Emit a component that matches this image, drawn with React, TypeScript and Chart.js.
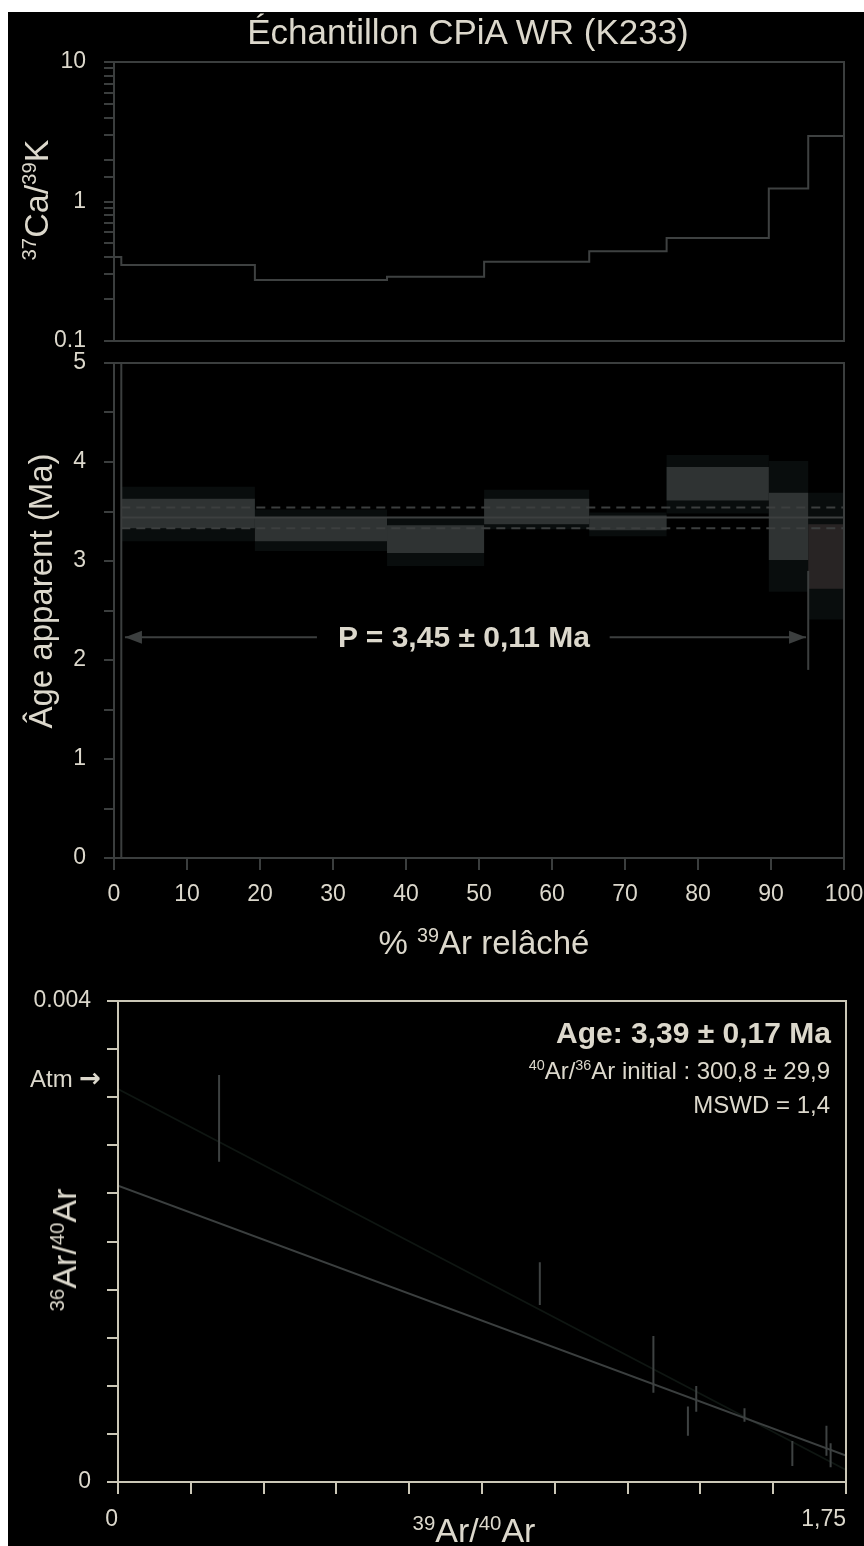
import React, { useEffect, useRef } from 'react';
import { Chart, registerables } from 'chart.js';

Chart.register(...registerables);

// ---------------- Data ----------------
// step edges (% 39Ar released), shared by Ca/K and age spectrum
const stepEdges = [0, 1, 19.3, 37.4, 50.7, 65.1, 75.7, 89.7, 95.1, 100];
// 37Ca/39K for each step
const caK = [0.4, 0.35, 0.274, 0.289, 0.37, 0.44, 0.547, 1.24, 2.95];
// apparent ages (Ma): 1 sigma and 2 sigma envelopes per step
const age1Lo = [-1, 3.33, 3.2, 3.08, 3.37, 3.31, 3.61, 3.01, 2.72];
const age1Hi = [6, 3.63, 3.44, 3.36, 3.63, 3.46, 3.95, 3.69, 3.37];
const age2Lo = [-1, 3.2, 3.1, 2.95, 3.32, 3.25, 3.48, 2.69, 2.41];
const age2Hi = [6, 3.75, 3.52, 3.45, 3.72, 3.49, 4.07, 4.01, 3.69];
// plateau
const plateauMean = 3.44;
const plateauLo = 3.33;
const plateauHi = 3.54;
const plateauSpan = [1, 100];
const arrowLevel = 2.23;
const arrowEnds = [1.5, 94.8];
const arrowGap = [27.8, 67.9];
const plateauMarker = { x: 95.1, from: 1.9, to: 2.9 };

// isochron points: 39Ar/40Ar, 36Ar/40Ar and error
const isoX = [0.243, 1.014, 1.287, 1.37, 1.39, 1.506, 1.621, 1.703, 1.713];
const isoY = [0.003024, 0.001649, 0.000979, 0.000506, 0.000692, 0.000557, 0.000237, 0.000343, 0.000222];
const isoErr = [0.00036, 0.000178, 0.000236, 0.000121, 0.000107, 0.000056, 0.000104, 0.000125, 0.0001];
const fitLineX = [0, 1.75];
const fitLineY = [0.002464, 0.000219];
const isoLineX = [0, 1.75];
const isoLineY = [0.003268, 0.0001];

// tick definitions
const caTickLabels = ['0.1', '1', '10'];
const ageXTicks = { min: 0, max: 100, step: 10 };
const ageYTicks = { min: 0, max: 5, step: 0.5 };
const isoXTicks = { min: 0, max: 1.75, step: 0.175 };
const isoYTicks = { min: 0, max: 0.004, step: 0.0004 };

// ---------------- Styles ----------------
const FONT = "'Liberation Sans', Arial, Helvetica, sans-serif";
const TEXT = '#dcd8cc';
const GRAY = '#3b3e3e';
const BEIGE = '#cbc7b7';
const innerFill = ['#000000', '#2f3333', '#2f3333', '#2f3333', '#2f3333', '#2f3333', '#2f3333', '#2f3333', '#282424'];
const outerFill = ['#000000', '#090d0d', '#090d0d', '#090d0d', '#090d0d', '#090d0d', '#090d0d', '#090d0d', '#090d0d'];

const tickFont = { family: FONT, size: 23 };

const noPad = (s: any) => {
  s.paddingTop = 0;
  s.paddingBottom = 0;
  s.paddingLeft = 0;
  s.paddingRight = 0;
};

const framePlugin = (color: string, width: number) => ({
  id: 'frame',
  afterDraw(chart: any) {
    const { ctx, chartArea: a } = chart;
    ctx.save();
    ctx.strokeStyle = color;
    ctx.lineWidth = width;
    ctx.strokeRect(a.left, a.top, a.right - a.left, a.bottom - a.top);
    ctx.restore();
  },
});

function makeCaChart(canvas: HTMLCanvasElement) {
  const pts = caK.map((v, i) => ({ x: stepEdges[i], y: v }));
  pts.push({ x: stepEdges[stepEdges.length - 1], y: caK[caK.length - 1] });
  return new Chart(canvas, {
    type: 'scatter',
    data: {
      datasets: [
        {
          data: pts,
          showLine: true,
          stepped: 'before',
          borderColor: '#3e4141',
          borderWidth: 2,
          pointRadius: 0,
        } as any,
      ],
    },
    options: {
      responsive: false,
      animation: false,
      layout: { padding: { left: 0, right: 20, top: 22, bottom: 19 } },
      plugins: { legend: { display: false }, tooltip: { enabled: false } },
      scales: {
        x: { type: 'linear', min: 0, max: 100, display: false },
        y: {
          type: 'logarithmic',
          min: 0.1,
          max: 10,
          afterFit: (s: any) => { s.width = 114; noPad(s); },
          border: { display: true, color: GRAY, width: 2 },
          grid: { drawOnChartArea: false, drawTicks: true, tickLength: 10, color: GRAY, lineWidth: 2 },
          ticks: {
            autoSkip: false,
            color: TEXT,
            font: tickFont,
            padding: 18,
            callback: (v: any) => {
              const l = Math.log10(Number(v));
              if (Math.abs(l - Math.round(l)) < 1e-6) return caTickLabels[Math.round(l) + 1];
              return '';
            },
          },
        },
      },
    } as any,
    plugins: [framePlugin(GRAY, 2)],
  });
}

function box(i: number, lo: number[], hi: number[]) {
  const x0 = stepEdges[i];
  const x1 = stepEdges[i + 1];
  return [
    { x: x0, y: lo[i] },
    { x: x0, y: hi[i] },
    { x: x1, y: hi[i] },
    { x: x1, y: lo[i] },
    { x: x0, y: lo[i] },
  ];
}

function makeAgeChart(canvas: HTMLCanvasElement) {
  const datasets: any[] = [];
  for (let i = 0; i < age1Lo.length; i++) {
    datasets.push({
      data: box(i, age2Lo, age2Hi),
      showLine: true,
      fill: 'shape',
      backgroundColor: outerFill[i],
      borderWidth: 0,
      borderColor: 'rgba(0,0,0,0)',
      pointRadius: 0,
      order: 40,
    });
    datasets.push({
      data: box(i, age1Lo, age1Hi),
      showLine: true,
      fill: 'shape',
      backgroundColor: innerFill[i],
      borderWidth: i === 0 ? 2 : 0,
      borderColor: i === 0 ? GRAY : 'rgba(0,0,0,0)',
      pointRadius: 0,
      order: 30,
    });
  }
  const hline = (y: number, dash: number[]) => ({
    data: [{ x: plateauSpan[0], y }, { x: plateauSpan[1], y }],
    showLine: true,
    borderColor: '#3c3f3f',
    borderWidth: 2,
    borderDash: dash,
    pointRadius: 0,
    order: 10,
  });
  datasets.push(hline(plateauMean, []));
  datasets.push(hline(plateauHi, [9, 6]));
  datasets.push(hline(plateauLo, [9, 6]));
  const seg = (a: number, b: number) => ({
    data: [{ x: a, y: arrowLevel }, { x: b, y: arrowLevel }],
    showLine: true,
    borderColor: '#3c3f3f',
    borderWidth: 2,
    pointRadius: 0,
    order: 5,
  });
  datasets.push(seg(arrowEnds[0], arrowGap[0]));
  datasets.push(seg(arrowGap[1], arrowEnds[1]));
  datasets.push({
    data: [{ x: plateauMarker.x, y: plateauMarker.from }, { x: plateauMarker.x, y: plateauMarker.to }],
    showLine: true,
    borderColor: '#3c3f3f',
    borderWidth: 2,
    pointRadius: 0,
    order: 5,
  });

  const arrowHeads = {
    id: 'arrowHeads',
    afterDatasetsDraw(chart: any) {
      const { ctx, scales } = chart;
      const yy = scales.y.getPixelForValue(arrowLevel);
      ctx.save();
      ctx.fillStyle = '#3c3f3f';
      const head = (px: number, dir: number) => {
        ctx.beginPath();
        ctx.moveTo(px, yy);
        ctx.lineTo(px - dir * 17, yy - 6.5);
        ctx.lineTo(px - dir * 17, yy + 6.5);
        ctx.closePath();
        ctx.fill();
      };
      head(scales.x.getPixelForValue(arrowEnds[0]), -1);
      head(scales.x.getPixelForValue(arrowEnds[1]), 1);
      ctx.restore();
    },
  };

  return new Chart(canvas, {
    type: 'scatter',
    data: { datasets },
    options: {
      responsive: false,
      animation: false,
      layout: { padding: { left: 0, right: 20, top: 13, bottom: 0 } },
      plugins: { legend: { display: false }, tooltip: { enabled: false } },
      scales: {
        x: {
          type: 'linear',
          min: ageXTicks.min,
          max: ageXTicks.max,
          afterFit: (s: any) => { s.height = 72; noPad(s); },
          border: { display: true, color: GRAY, width: 2 },
          grid: { drawOnChartArea: false, drawTicks: true, tickLength: 12, color: GRAY, lineWidth: 2 },
          ticks: { stepSize: ageXTicks.step, autoSkip: false, maxRotation: 0, color: TEXT, font: tickFont, padding: 11 },
        },
        y: {
          type: 'linear',
          min: ageYTicks.min,
          max: ageYTicks.max,
          afterFit: (s: any) => { s.width = 114; noPad(s); },
          border: { display: true, color: GRAY, width: 2 },
          grid: { drawOnChartArea: false, drawTicks: true, tickLength: 10, color: GRAY, lineWidth: 2 },
          ticks: {
            stepSize: ageYTicks.step,
            autoSkip: false,
            color: TEXT,
            font: tickFont,
            padding: 18,
            callback: (v: any) => (Number.isInteger(Number(v)) ? String(v) : ''),
          },
        },
      },
    } as any,
    plugins: [framePlugin(GRAY, 2), arrowHeads],
  });
}

function makeIsoChart(canvas: HTMLCanvasElement) {
  const bars: any[] = [];
  isoX.forEach((x, i) => {
    bars.push({ x, y: isoY[i] - isoErr[i] });
    bars.push({ x, y: isoY[i] + isoErr[i] });
    bars.push({ x, y: null });
  });
  return new Chart(canvas, {
    type: 'scatter',
    data: {
      datasets: [
        { data: bars, showLine: true, spanGaps: false, borderColor: '#3e4242', borderWidth: 2, pointRadius: 0, order: 1 },
        {
          data: fitLineX.map((x, i) => ({ x, y: fitLineY[i] })),
          showLine: true,
          borderColor: '#3b3f3f',
          borderWidth: 2,
          pointRadius: 0,
          order: 2,
        },
        {
          data: isoLineX.map((x, i) => ({ x, y: isoLineY[i] })),
          showLine: true,
          borderColor: '#0f1612',
          borderWidth: 1.6,
          pointRadius: 0,
          order: 3,
        },
      ] as any,
    },
    options: {
      responsive: false,
      animation: false,
      layout: { padding: { left: 0, right: 18, top: 16, bottom: 0 } },
      plugins: { legend: { display: false }, tooltip: { enabled: false } },
      scales: {
        x: {
          type: 'linear',
          min: isoXTicks.min,
          max: isoXTicks.max,
          afterFit: (s: any) => { s.height = 64; noPad(s); },
          border: { display: true, color: BEIGE, width: 2 },
          grid: { drawOnChartArea: false, drawTicks: true, tickLength: 12, color: BEIGE, lineWidth: 2 },
          ticks: {
            stepSize: isoXTicks.step,
            autoSkip: false,
            maxRotation: 0,
            align: 'end',
            color: TEXT,
            font: tickFont,
            padding: 12,
            callback: (v: any) => {
              const n = Number(v);
              if (Math.abs(n - isoXTicks.min) < 1e-9) return '0';
              if (Math.abs(n - isoXTicks.max) < 1e-6) return '1,75';
              return '';
            },
          },
        },
        y: {
          type: 'linear',
          min: isoYTicks.min,
          max: isoYTicks.max,
          afterFit: (s: any) => { s.width = 118; noPad(s); },
          border: { display: true, color: BEIGE, width: 2 },
          grid: { drawOnChartArea: false, drawTicks: true, tickLength: 11, color: BEIGE, lineWidth: 2 },
          ticks: {
            stepSize: isoYTicks.step,
            autoSkip: false,
            color: TEXT,
            font: tickFont,
            padding: 16,
            callback: (v: any) => {
              const n = Number(v);
              if (Math.abs(n - isoYTicks.min) < 1e-12) return '0';
              if (Math.abs(n - isoYTicks.max) < 1e-9) return '0.004';
              return '';
            },
          },
        },
      },
    } as any,
    plugins: [framePlugin(BEIGE, 2)],
  });
}

const Sup = ({ children }: { children: any }) => (
  <span style={{ fontSize: '0.6em', position: 'relative', top: '-0.6em' }}>{children}</span>
);

const base: React.CSSProperties = {
  position: 'absolute',
  fontFamily: FONT,
  color: TEXT,
  lineHeight: 1,
  whiteSpace: 'nowrap',
};

function Centered({ x, y, size, bold, children }: any) {
  return (
    <div style={{ ...base, left: x, top: y, fontSize: size, fontWeight: bold ? 'bold' : 'normal', transform: 'translate(-50%, -50%)' }}>
      {children}
    </div>
  );
}

function Rotated({ x, y, size, children }: any) {
  return (
    <div style={{ ...base, left: x, top: y, fontSize: size, transform: 'translate(-50%, -50%) rotate(-90deg)' }}>
      {children}
    </div>
  );
}

function RightText({ right, y, size, bold, children }: any) {
  return (
    <div style={{ ...base, right: 864 - right, top: y, fontSize: size, fontWeight: bold ? 'bold' : 'normal', transform: 'translateY(-50%)' }}>
      {children}
    </div>
  );
}

export default function App() {
  const caRef = useRef<HTMLCanvasElement>(null);
  const ageRef = useRef<HTMLCanvasElement>(null);
  const isoRef = useRef<HTMLCanvasElement>(null);

  useEffect(() => {
    const c1 = makeCaChart(caRef.current!);
    const c2 = makeAgeChart(ageRef.current!);
    const c3 = makeIsoChart(isoRef.current!);
    return () => {
      c1.destroy();
      c2.destroy();
      c3.destroy();
    };
  }, []);

  return (
    <div style={{ position: 'absolute', left: 0, top: 0, width: 864, height: 1546, overflow: 'hidden' }}>
      <div style={{ position: 'absolute', left: 8, top: 12, width: 856, height: 1534, background: '#000' }} />
      <canvas ref={caRef} width={864} height={320} style={{ position: 'absolute', left: 0, top: 40 }} />
      <canvas ref={ageRef} width={864} height={580} style={{ position: 'absolute', left: 0, top: 350 }} />
      <canvas ref={isoRef} width={864} height={561} style={{ position: 'absolute', left: 0, top: 985 }} />

      <Centered x={468} y={31} size={35}>Échantillon CPiA WR (K233)</Centered>
      <Rotated x={36} y={200} size={34}>
        <Sup>37</Sup>Ca/<Sup>39</Sup>K
      </Rotated>
      <Rotated x={40} y={591} size={33}>Âge apparent (Ma)</Rotated>
      <Centered x={464} y={637} size={30} bold>P = 3,45 ± 0,11 Ma</Centered>
      <Centered x={484} y={942} size={33}>
        % <Sup>39</Sup>Ar relâché
      </Centered>

      <RightText right={831} y={1033} size={30} bold>Age: 3,39 ± 0,17 Ma</RightText>
      <RightText right={830} y={1071} size={24}>
        <Sup>40</Sup>Ar/<Sup>36</Sup>Ar initial : 300,8 ± 29,9
      </RightText>
      <RightText right={830} y={1105} size={24}>MSWD = 1,4</RightText>
      <div style={{ ...base, left: 30, top: 1078, fontSize: 24, transform: 'translateY(-50%)' }}>
        Atm <span style={{ fontFamily: "'DejaVu Sans', sans-serif", fontWeight: 'bold', fontSize: 26 }}>→</span>
      </div>
      <Rotated x={64} y={1250} size={34}>
        <Sup>36</Sup>Ar/<Sup>40</Sup>Ar
      </Rotated>
      <Centered x={474} y={1530} size={34}>
        <Sup>39</Sup>Ar/<Sup>40</Sup>Ar
      </Centered>
    </div>
  );
}
